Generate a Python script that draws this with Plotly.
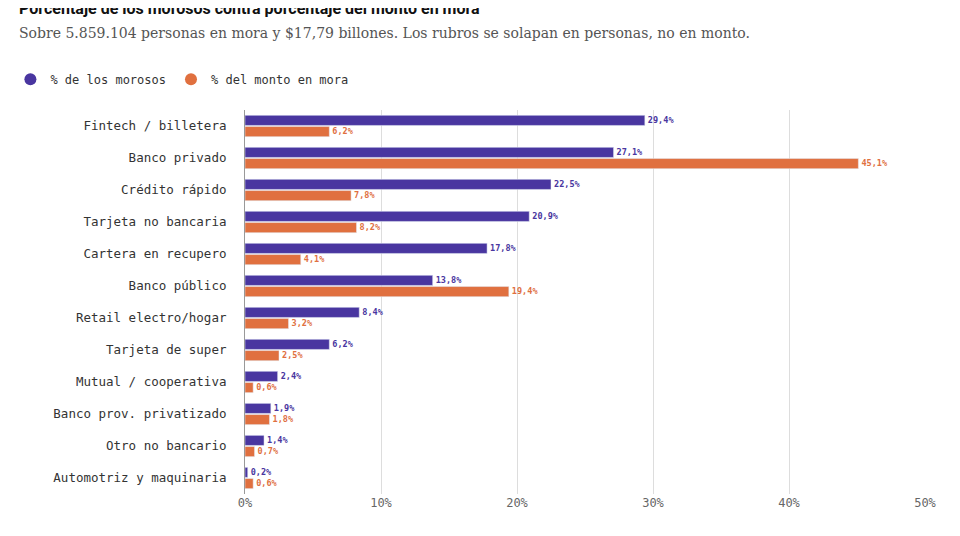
import plotly.graph_objects as go

categories = ["Fintech / billetera", "Banco privado", "Crédito rápido", "Tarjeta no bancaria",
              "Cartera en recupero", "Banco público", "Retail electro/hogar", "Tarjeta de super",
              "Mutual / cooperativa", "Banco prov. privatizado", "Otro no bancario",
              "Automotriz y maquinaria"]
morosos = [29.4, 27.1, 22.5, 20.9, 17.8, 13.8, 8.4, 6.2, 2.4, 1.9, 1.4, 0.2]
monto = [6.2, 45.1, 7.8, 8.2, 4.1, 19.4, 3.2, 2.5, 0.6, 1.8, 0.7, 0.6]

PURPLE = "#4936a0"
ORANGE = "#e0703f"
MONO = "DejaVu Sans Mono"


def fmt(v):
    return f"{v:.1f}%".replace(".", ",")


fig = go.Figure()
for name, vals, col in [("% de los morosos", morosos, PURPLE), ("% del monto en mora", monto, ORANGE)]:
    fig.add_trace(go.Bar(
        y=categories, x=vals, orientation="h", name=name, marker_color=col,
        text=[f"<b>{fmt(v)}</b>" for v in vals], textposition="outside", cliponaxis=False,
        textfont=dict(family=MONO, size=11, color=col), showlegend=False,
    ))
    # circle legend entry
    fig.add_trace(go.Scatter(x=[None], y=[None], mode="markers", name=name,
                             marker=dict(symbol="circle", size=12, color=col)))

fig.update_layout(
    width=960, height=536, barmode="group", bargap=0.3, bargroupgap=0.1,
    paper_bgcolor="white", plot_bgcolor="white",
    margin=dict(l=237, r=43, t=102, b=50, autoexpand=False),
    font=dict(family=MONO, color="#333333"),
    annotations=[
        dict(text="<b>Porcentaje de los morosos contra porcentaje del monto en mora</b>",
             xref="paper", yref="paper", x=-0.335, y=1.265, xanchor="left", yanchor="middle",
             showarrow=False, font=dict(family="Roboto, Liberation Sans", size=16, color="#111111")),
        dict(text="Sobre 5.859.104 personas en mora y $17,79 billones. Los rubros se solapan en personas, no en monto.",
             xref="paper", yref="paper", x=-0.335, y=1.2, xanchor="left", yanchor="middle",
             showarrow=False, font=dict(family="DejaVu Serif", size=14, color="#555555")),
    ],
    legend=dict(orientation="h", x=-0.345, xanchor="left", y=1.08, yanchor="middle",
                font=dict(family=MONO, size=12, color="#333333"), itemsizing="constant"),
    xaxis=dict(range=[0, 50], tickvals=[0, 10, 20, 30, 40, 50],
               ticktext=["0%", "10%", "20%", "30%", "40%", "50%"],
               showgrid=True, gridcolor="#dddddd", zeroline=False, automargin=False,
               tickfont=dict(family=MONO, size=12, color="#666666")),
    yaxis=dict(autorange="reversed", showline=True, linecolor="#999999", automargin=False,
               ticks="", ticksuffix="  ", tickfont=dict(family=MONO, size=12.5, color="#333333")),
)

fig.write_html("out.html")
